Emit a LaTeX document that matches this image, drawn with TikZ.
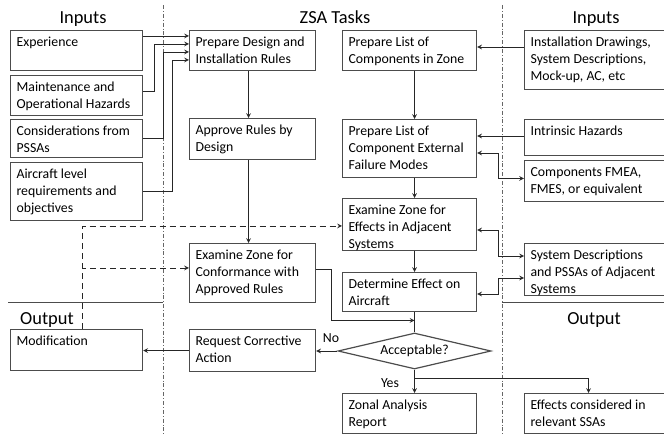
\documentclass[tikz,border=0pt]{standalone}
\usepackage{fontspec}
\setmainfont{Carlito}
\usetikzlibrary{arrows, shapes.geometric}

% box text: width, height, lines (top aligned)
\newcommand{\boxtext}[3]{%
  \parbox[t][#2][t]{#1}{\leftskip=4.5pt\rightskip=0pt plus 1fil\parindent=0pt
    \rule{0pt}{12pt}#3}}

\begin{document}
\begin{tikzpicture}[
            x = 0.75pt, y = -0.75pt, % one unit = one pixel
            > = stealth, % arrow head style
            font = \fontsize{10.35}{12.75}\selectfont
        ]

        \tikzstyle{zbox}=[
            draw = black!70,
            line width = 0.9pt,
            anchor = north west,
            inner sep = 0pt
        ]
        \tikzstyle{link}=[black!85, line width = 0.6pt]
        \tikzstyle{title}=[anchor = base, font = \fontsize{13.8}{16}\selectfont]
        \tikzstyle{divider}=[black!60, line width = 0.5pt,
            dash pattern = on 3pt off 1.5pt on 0.6pt off 1.5pt]

        \useasboundingbox (0,0) rectangle (664,434);
        \clip (0,0) rectangle (664,434);

        % lanes
        \draw[divider] (163,5) -- (163,434);
        \draw[divider] (502,5) -- (502,434);
        \draw[black!70, line width = 0.6pt] (8,302) -- (163,302);
        \draw[black!70, line width = 0.6pt] (502,302) -- (664,302);

        \node[title] (tin) at (83,24) {Inputs};
        \node[title] (ttask) at (335,24) {ZSA Tasks};
        \node[title] (tin2) at (596,24) {Inputs};
        \node[title] (tout) at (47,325) {Output};
        \node[title] (tout2) at (594,325) {Output};

        % inputs (left)
        \node[zbox] (exp) at (10,30) {\boxtext{99pt}{30pt}{Experience}};
        \node[zbox] (maint) at (10,75) {\boxtext{99pt}{30pt}{Maintenance and\\Operational Hazards}};
        \node[zbox] (cons) at (10,119) {\boxtext{99pt}{28.5pt}{Considerations from\\PSSAs}};
        \node[zbox] (acl) at (10,162) {\boxtext{99pt}{43.5pt}{Aircraft level\\requirements and\\objectives}};
        \node[zbox] (mod) at (10,329) {\boxtext{99pt}{30.75pt}{Modification}};

        % tasks
        \node[zbox] (prep) at (189,30) {\boxtext{94.5pt}{30pt}{Prepare Design and\\Installation Rules}};
        \node[zbox] (appr) at (189,118) {\boxtext{94.5pt}{30.75pt}{Approve Rules by\\Design}};
        \node[zbox] (exconf) at (189,243) {\boxtext{94.5pt}{44.25pt}{Examine Zone for\\Conformance with\\Approved Rules}};
        \node[zbox] (req) at (189,329) {\boxtext{94.5pt}{31.5pt}{Request Corrective\\Action}};

        \node[zbox] (listz) at (342,30) {\boxtext{100.5pt}{30pt}{Prepare List of\\Components in Zone}};
        \node[zbox] (listf) at (342,119) {\boxtext{100.5pt}{43.5pt}{Prepare List of\\Component External\\Failure Modes}};
        \node[zbox] (exeff) at (342,198) {\boxtext{100.5pt}{39pt}{Examine Zone for\\Effects in Adjacent\\Systems}};
        \node[zbox] (deteff) at (342,272) {\boxtext{100.5pt}{29.25pt}{Determine Effect on\\Aircraft}};
        \node[diamond, draw = black!70, line width = 0.9pt, aspect = 4.25,
            minimum width = 114.75pt, minimum height = 27pt, inner sep = 0pt]
            (dia) at (414.5,351) {Acceptable?};
        \node[zbox] (zar) at (342,393) {\boxtext{100.5pt}{30pt}{Zonal Analysis\\Report}};

        % inputs (right)
        \node[zbox] (instd) at (524,30) {\boxtext{111pt}{44.25pt}{Installation Drawings,\\System Descriptions,\\Mock-up, AC, etc}};
        \node[zbox] (intr) at (524,119) {\boxtext{111pt}{27pt}{Intrinsic Hazards}};
        \node[zbox] (fmea) at (524,160) {\boxtext{111pt}{30.75pt}{Components FMEA,\\FMES, or equivalent}};
        \node[zbox] (sysd) at (524,243) {\boxtext{111pt}{39pt}{System Descriptions\\and PSSAs of Adjacent\\Systems}};
        \node[zbox] (effc) at (524,393) {\boxtext{111pt}{30pt}{Effects considered in\\relevant SSAs}};

        \node[anchor = base] (no) at (331,343) {No};
        \node[anchor = base] (yes) at (390,388) {Yes};

        % inputs into design rules
        \draw[link, ->] ([yshift=-4.5pt]exp.north east) -- ([yshift=-4.5pt]prep.north west);
        \draw[link, ->] ([yshift=3pt]maint.east) -- ++(11,0) |- ([yshift=-10.5pt]prep.north west);
        \draw[link, ->] (cons.east) -- ++(20,0) |- ([yshift=-16.5pt]prep.north west);
        \draw[link, ->] (acl.east) -- ++(29,0) |- ([yshift=-22.5pt]prep.north west);

        \draw[link, ->] ([xshift=-3pt]prep.south) -- ([xshift=-3pt]appr.north);
        \draw[link, ->] ([xshift=-3pt]appr.south) -- ([xshift=-3pt]exconf.north);
        \draw[link, ->] ([yshift=2.5pt]exconf.east) -- ++(15,0) |- ([yshift=9pt]dia.north);

        \draw[link, ->] (dia.north |- listz.south) -- (dia.north |- listf.north);
        \draw[link, ->] (dia.north |- listf.south) -- (dia.north |- exeff.north);
        \draw[link, ->] (dia.north |- exeff.south) -- (dia.north |- deteff.north);
        \draw[link] (dia.north |- deteff.south) -- (dia.north);

        % inputs (right)
        \draw[link, ->] ([yshift=-12.75pt]instd.north west) -- ([yshift=-12.75pt]listz.north east);
        \draw[link, ->] ([yshift=-12.75pt]intr.north west) -- ([yshift=-12.75pt]listf.north east);
        \draw[link, <->] ([yshift=-25.5pt]listf.north east) -- ++(21,0) |- ([yshift=2pt]fmea.west);
        \draw[link, <->] ([yshift=-24pt]exeff.north east) -- ++(21,0) |- ([yshift=-9.75pt]sysd.north west);
        \draw[link, <->] ([yshift=-16.5pt]deteff.north east) -- ++(21,0) |- ([yshift=-26.25pt]sysd.north west);

        % decision
        \draw[link, ->] (dia.west) -- (dia.west -| req.east);
        \draw[link, ->] (req.west) -- (req.west -| mod.east);
        \draw[link, ->] (dia.south) -- (dia.south |- zar.north);
        \draw[link, ->] ([yshift=-6.75pt]dia.south) -| ([xshift=-7.5pt]effc.north);

        % modification feedback
        \draw[link, dash pattern = on 4.5pt off 3pt, ->] ([xshift=4.5pt]mod.north) |- ([yshift=-21pt]exeff.north west);
        \draw[link, dash pattern = on 4.5pt off 3pt, <-] ([yshift=-18.75pt]exconf.north west) -- ++(-107,0);
    \end{tikzpicture}
\end{document}
